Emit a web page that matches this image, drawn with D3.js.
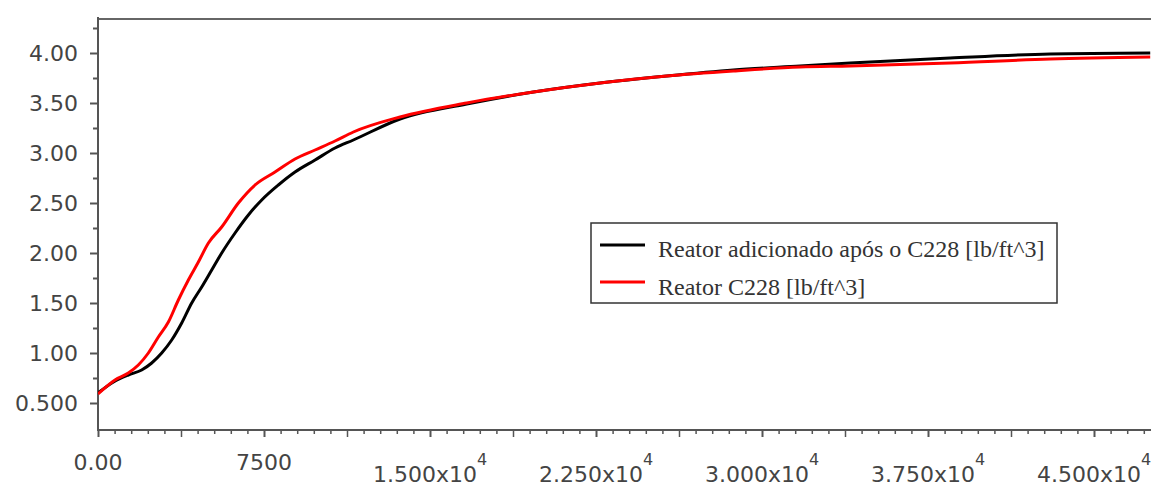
<!DOCTYPE html>
<html>
<head>
<meta charset="utf-8">
<script src="https://cdn.jsdelivr.net/npm/d3@7"></script>
<style>
  body { margin: 0; background: #fff; }
  svg { display: block; }
</style>
</head>
<body>
<svg id="chart"></svg>
<script>
'use strict'

const width = 1151,
      height = 486

// black series: "Reator adicionado após o C228"
const blackTime = [0, 700, 1370, 1973, 2426, 2878, 3330, 3782, 4234, 4686, 5138, 5590, 6192, 6794,
                   7397, 8149, 8902, 9806, 10709, 11538, 13647, 16660, 19672, 22684, 25696, 28708,
                   31720, 33980, 38500, 43020, 47540]
const blackValue = [0.60, 0.71, 0.78, 0.83, 0.90, 1.00, 1.13, 1.30, 1.50, 1.66, 1.83, 2.00, 2.20, 2.38,
                    2.53, 2.68, 2.81, 2.93, 3.05, 3.13, 3.34, 3.49, 3.61, 3.70, 3.77, 3.83,
                    3.87, 3.90, 3.95, 3.99, 4.00]

// red series: "Reator C228"
const redTime = [0, 768, 1370, 1822, 2275, 2727, 3180, 3630, 4083, 4535, 4988, 5588, 6342, 7095,
                 7998, 8902, 9806, 10709, 11538, 13647, 16660, 19672, 22684, 25696, 28708,
                 31720, 33980, 38500, 43020, 47540]
const redValue = [0.59, 0.73, 0.80, 0.88, 1.00, 1.16, 1.31, 1.53, 1.73, 1.91, 2.10, 2.26, 2.50, 2.68,
                  2.81, 2.94, 3.03, 3.12, 3.21, 3.36, 3.50, 3.61, 3.70, 3.77, 3.82,
                  3.86, 3.87, 3.90, 3.94, 3.96]

const yTicks = [0.5, 1, 1.5, 2, 2.5, 3, 3.5, 4]
const yMinorTicks = [0.75, 1.25, 1.75, 2.25, 2.75, 3.25, 3.75, 4.25]
const xTicks = [0, 7500, 15000, 22500, 30000, 37500, 45000]
const xMidTicks = [3750, 11250, 18750, 26250, 33750, 41250]
const xMinorTicks = d3.range(750, 48000, 750).filter(v => v % 3750 !== 0)

const legendLabels = ['Reator adicionado após o C228 [lb/ft^3]', 'Reator C228 [lb/ft^3]']
const seriesColors = ['#000000', '#ff0000']

const plotLeft = 98, plotTop = 19, plotBottom = 430

const svg = d3.select('#chart')
  .attr('width', width)
  .attr('height', height)

const x = d3.scaleLinear().domain([0, 48000]).range([plotLeft, plotLeft + 48000 * 166 / 7500])
const y = d3.scaleLinear().domain([0.23, 4.34]).range([plotBottom, plotTop])

const axisColor = '#555'
const labelFont = '"DejaVu Sans", Verdana, sans-serif'

// frame: top border
svg.append('line')
  .attr('x1', plotLeft).attr('x2', width)
  .attr('y1', plotTop).attr('y2', plotTop)
  .attr('stroke', '#666').attr('stroke-width', 2)

// y axis
const yAxis = svg.append('g')
  .attr('transform', `translate(${plotLeft},0)`)
  .call(d3.axisLeft(y).tickValues(yTicks).tickSize(8).tickSizeOuter(0)
    .tickFormat(d => d === 0.5 ? '0.500' : d.toFixed(2)))
yAxis.select('.domain').remove()
yAxis.selectAll('line').attr('stroke', axisColor).attr('stroke-width', 2)
yAxis.selectAll('text')
  .attr('x', -20)
  .attr('dy', '0.36em')
  .attr('fill', '#444')
  .style('font-family', labelFont)
  .style('font-size', '22px')

const yMinor = svg.append('g')
  .attr('transform', `translate(${plotLeft},0)`)
  .call(d3.axisLeft(y).tickValues(yMinorTicks).tickSize(5).tickSizeOuter(0).tickFormat(''))
yMinor.select('.domain').remove()
yMinor.selectAll('line').attr('stroke', axisColor).attr('stroke-width', 2)

svg.append('line')
  .attr('x1', plotLeft).attr('x2', plotLeft)
  .attr('y1', plotTop - 2).attr('y2', plotBottom + 1)
  .attr('stroke', axisColor).attr('stroke-width', 2)

// x axis
function xAxisTicks(values, size) {
  const g = svg.append('g')
    .attr('transform', `translate(0,${plotBottom})`)
    .call(d3.axisBottom(x).tickValues(values).tickSize(size).tickSizeOuter(0).tickFormat(''))
  g.select('.domain').remove()
  g.selectAll('line').attr('stroke', axisColor).attr('stroke-width', 1.5)
  return g
}
xAxisTicks(xMinorTicks, 4)
xAxisTicks(xMidTicks, 7)
const xMajor = xAxisTicks(xTicks, 7)
xMajor.selectAll('line').attr('stroke-width', 2)

svg.append('line')
  .attr('x1', plotLeft - 1).attr('x2', width)
  .attr('y1', plotBottom).attr('y2', plotBottom)
  .attr('stroke', axisColor).attr('stroke-width', 2)

// x tick labels, big numbers written as mantissa x10^4
const xLabels = svg.append('g')
  .style('font-family', labelFont)
  .attr('fill', '#444')
xTicks.forEach(v => {
  const t = xLabels.append('text')
    .attr('x', x(v))
    .attr('text-anchor', 'middle')
    .style('font-size', '22px')
  if (v < 10000) {
    t.attr('y', 470).text(v === 0 ? '0.00' : String(v))
  } else {
    t.attr('y', 482)
    t.append('tspan').text((v / 1e4).toFixed(3) + 'x10')
    t.append('tspan').attr('dy', -17).style('font-size', '16px').text('4')
  }
})

// series
const line = d3.line()
  .x(d => x(d[0]))
  .y(d => y(d[1]))
  .curve(d3.curveMonotoneX)

const series = [
  d3.zip(blackTime, blackValue),
  d3.zip(redTime, redValue)
]

svg.append('defs').append('clipPath').attr('id', 'plot')
  .append('rect').attr('x', plotLeft).attr('y', plotTop).attr('width', width - plotLeft).attr('height', plotBottom - plotTop)

svg.append('g')
  .attr('clip-path', 'url(#plot)')
  .selectAll('path')
  .data(series)
  .join('path')
    .attr('d', line)
    .attr('fill', 'none')
    .attr('stroke', (d, i) => seriesColors[i])
    .attr('stroke-width', 3)

// legend
const legend = svg.append('g')
legend.append('rect')
  .attr('x', 591).attr('y', 223)
  .attr('width', 466).attr('height', 80)
  .attr('fill', '#fff')
  .attr('stroke', '#333').attr('stroke-width', 1.5)

legendLabels.forEach((label, i) => {
  const cy = 245 + i * 37
  legend.append('line')
    .attr('x1', 600).attr('x2', 645)
    .attr('y1', cy).attr('y2', cy)
    .attr('stroke', seriesColors[i]).attr('stroke-width', 3)
  legend.append('text')
    .attr('x', 658).attr('y', 257 + i * 38)
    .attr('fill', '#333')
    .style('font-family', '"Liberation Serif", "Times New Roman", serif')
    .style('font-size', '24px')
    .text(label)
})
</script>
</body>
</html>
